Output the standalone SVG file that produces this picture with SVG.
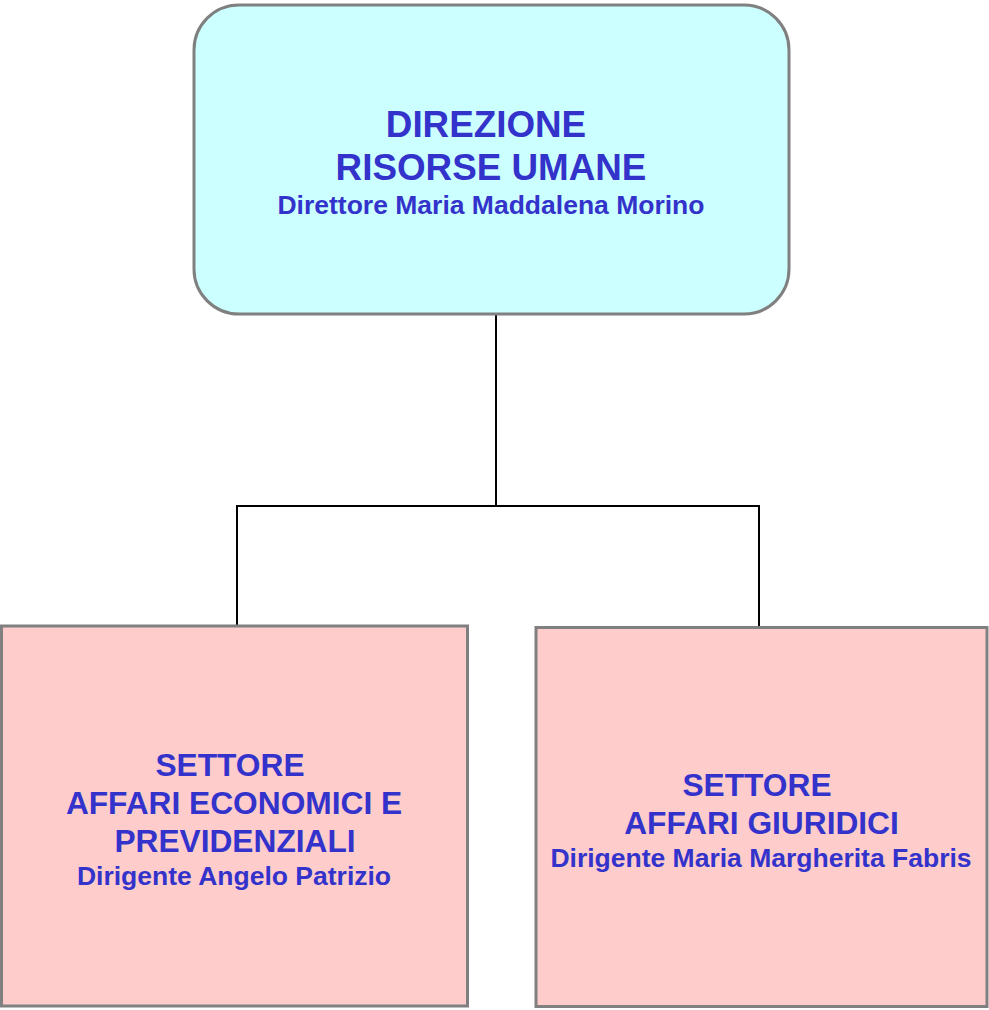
<svg xmlns="http://www.w3.org/2000/svg" width="989" height="1010" viewBox="0 0 989 1010">
<style>
.box{stroke:#808080;stroke-width:3}
.t{font-family:"Liberation Sans",Arial,sans-serif;font-weight:bold;fill:#3333CC;text-anchor:middle}
.conn{stroke:#000;stroke-width:2;fill:none}
</style>
<rect width="989" height="1010" fill="#fff"/>
<g id="connectors">
<line class="conn" x1="496" y1="314" x2="496" y2="506"/>
<polyline class="conn" points="237,626 237,506 759,506 759,627"/>
</g>
<g id="direzione">
<rect class="box" x="194" y="5" width="595" height="309" rx="45" ry="45" fill="#CCFFFF"/>
<text class="t" x="486" y="137" font-size="36.8">DIREZIONE</text>
<text class="t" x="491" y="180" font-size="36.8">RISORSE UMANE</text>
<text class="t" x="491" y="214" font-size="26.5">Direttore Maria Maddalena Morino</text>
</g>
<g id="settore-economici">
<rect class="box" x="1.5" y="626" width="466" height="380" fill="#FFCCCC"/>
<text class="t" x="230" y="776" font-size="31.7">SETTORE</text>
<text class="t" x="234" y="814" font-size="31.7">AFFARI ECONOMICI E</text>
<text class="t" x="235" y="852" font-size="31.7">PREVIDENZIALI</text>
<text class="t" x="234" y="885" font-size="26.5">Dirigente Angelo Patrizio</text>
</g>
<g id="settore-giuridici">
<rect class="box" x="536" y="627.5" width="451" height="379" fill="#FFCCCC"/>
<text class="t" x="757" y="796" font-size="31.7">SETTORE</text>
<text class="t" x="761.5" y="834" font-size="31.7">AFFARI GIURIDICI</text>
<text class="t" x="761" y="867" font-size="26.5">Dirigente Maria Margherita Fabris</text>
</g>
</svg>
